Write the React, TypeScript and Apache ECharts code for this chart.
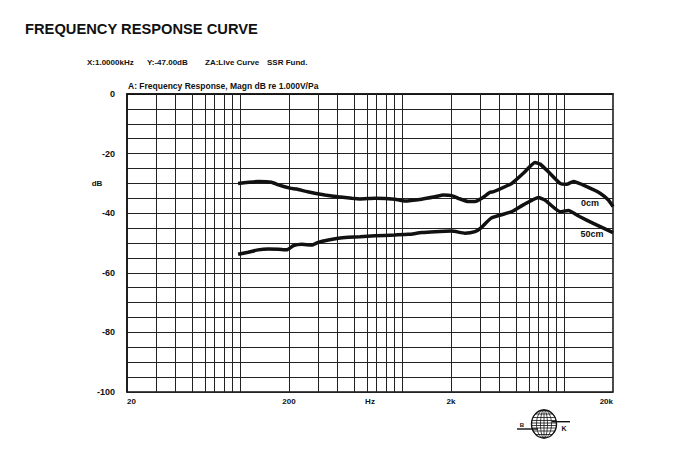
import React, { useEffect, useRef } from "react";
import * as echarts from "echarts";

const FREQ_0CM = [97, 129, 156, 172, 203, 223, 251, 289, 333, 403, 488, 548, 679, 902, 1040, 1318, 1592, 1795, 2019, 2219, 2558, 2812, 3097, 3483, 3650, 4742, 5590, 6600, 7085, 7977, 9420, 10360, 11380, 13770, 16640, 18730, 20000];
const DB_0CM = [-30.0, -29.4, -29.6, -30.5, -31.6, -31.9, -32.6, -33.3, -33.9, -34.5, -35.0, -35.2, -35.0, -35.3, -35.9, -35.3, -34.5, -33.9, -34.1, -35.0, -36.1, -36.1, -35.0, -33.0, -32.8, -30.0, -26.6, -23.0, -23.5, -26.1, -30.0, -30.3, -29.4, -31.1, -33.3, -35.6, -37.8];

const FREQ_50CM = [97, 112, 129, 149, 172, 194, 213, 240, 276, 303, 350, 403, 464, 548, 679, 902, 1089, 1318, 1592, 2019, 2440, 2812, 3050, 3550, 4742, 5590, 6920, 7610, 9420, 10600, 12510, 15110, 20000];
const DB_50CM = [-53.8, -53.1, -52.3, -52.0, -52.1, -52.3, -50.9, -50.4, -50.7, -49.8, -49.0, -48.4, -48.1, -47.9, -47.6, -47.3, -47.1, -46.5, -46.2, -46.0, -46.7, -46.2, -45.0, -41.6, -39.5, -37.2, -34.7, -35.6, -39.5, -39.1, -41.2, -43.4, -46.5];

const GRID_FREQS = [30, 40, 50, 60, 70, 80, 90, 100, 200, 300, 400, 500, 600, 700, 800, 900, 1000, 2000, 3000, 4000, 5000, 6000, 7000, 8000, 9000, 10000];
const X_TICK_LABELS = ["20", "200", "2k", "20k"];
const F_MIN = 20;

const TITLE = "FREQUENCY RESPONSE CURVE";
const HEADER_ITEMS = ["X:1.0000kHz", "Y:-47.00dB", "ZA:Live Curve", "SSR Fund."];
const SUBTITLE = "A: Frequency Response, Magn dB re 1.000V/Pa";

const lx = (f: number) => Math.log10(f / F_MIN);

export default function App() {
  const ref = useRef<HTMLDivElement>(null);
  useEffect(() => {
    if (!ref.current) return;
    const chart = echarts.init(ref.current, null, { renderer: "svg" });
    const ink = "#111";
    const font = "Liberation Sans, Arial, sans-serif";
    const small = { fontFamily: font, fontSize: 8, fontWeight: "bold", fill: ink };

    // globe logo pieces
    const R = 12.5, RY = 14;
    const logo: any[] = [];
    logo.push({ type: "ellipse", shape: { cx: 0, cy: 0, rx: R, ry: RY }, style: { fill: "#fff", stroke: ink, lineWidth: 1.4 } });
    [3.5, 7.5].forEach((rx) =>
      logo.push({ type: "ellipse", shape: { cx: 0, cy: 0, rx, ry: RY }, style: { fill: "none", stroke: ink, lineWidth: 0.8 } })
    );
    logo.push({ type: "line", shape: { x1: 0, y1: -RY, x2: 0, y2: RY }, style: { stroke: ink, lineWidth: 0.8 } });
    [-10, -6.5, -3.5, -1, 1.5, 4, 7, 10.5].forEach((dy) => {
      const hw = R * Math.sqrt(1 - (dy / RY) * (dy / RY));
      logo.push({ type: "line", shape: { x1: -hw, y1: dy, x2: hw, y2: dy }, style: { stroke: ink, lineWidth: 0.8 } });
    });
    logo.push({ type: "line", shape: { x1: -27, y1: 5, x2: -6, y2: 5 }, style: { stroke: ink, lineWidth: 1.4 } });
    logo.push({ type: "line", shape: { x1: 8, y1: -2.3, x2: 26, y2: -2.3 }, style: { stroke: ink, lineWidth: 1.4 } });
    logo.push({ type: "text", x: -22, y: 1, style: { text: "B", fontFamily: font, fontSize: 6, fontWeight: "bold", fill: ink, align: "center", verticalAlign: "middle" } });
    logo.push({ type: "text", x: 20, y: 4.5, style: { text: "K", fontFamily: font, fontSize: 7, fontWeight: "bold", fill: ink, align: "center", verticalAlign: "middle" } });

    const headerX = [87, 147, 205, 267];

    chart.setOption({
      animation: false,
      backgroundColor: "#fff",
      title: {
        text: TITLE,
        left: 20,
        top: 16,
        textStyle: { fontFamily: font, fontSize: 14.7, fontWeight: "bold", color: ink },
      },
      grid: { left: 127, right: 77, top: 94, bottom: 65, show: true, borderColor: ink, borderWidth: 1.5, backgroundColor: "transparent" },
      xAxis: {
        type: "value",
        min: 0,
        max: 3,
        interval: 1,
        axisLine: { show: true, lineStyle: { color: ink, width: 1.5 } },
        axisTick: { show: false },
        splitLine: { show: false },
        axisLabel: {
          formatter: (v: number) => X_TICK_LABELS[Math.round(v)] ?? "",
          fontFamily: font,
          fontSize: 8,
          fontWeight: "bold",
          color: ink,
          margin: 5,
          alignMinLabel: "left",
          alignMaxLabel: "right",
        },
      },
      yAxis: {
        type: "value",
        min: -100,
        max: 0,
        interval: 5,
        axisLine: { show: true, lineStyle: { color: ink, width: 1.5 } },
        axisTick: { show: false },
        splitLine: { show: true, lineStyle: { color: "#222", width: 1 } },
        axisLabel: {
          formatter: (v: number) => (v % 20 === 0 ? String(v) : ""),
          fontFamily: font,
          fontSize: 9,
          fontWeight: "bold",
          color: ink,
          margin: 12,
        },
      },
      graphic: [
        ...HEADER_ITEMS.map((t, i) => ({ type: "text", left: headerX[i], top: 58, style: { ...small, text: t } })),
        { type: "text", left: 128, top: 81, style: { ...small, fontSize: 8.5, text: SUBTITLE } },
        { type: "text", x: 97, y: 183, style: { ...small, text: "dB", align: "center", verticalAlign: "middle" } },
        { type: "text", x: 370, y: 401, style: { ...small, text: "Hz", align: "center", verticalAlign: "middle" } },
        { type: "text", x: 590, y: 203, style: { ...small, fontSize: 9, text: "0cm", align: "center", verticalAlign: "middle" } },
        { type: "text", x: 592, y: 234, style: { ...small, fontSize: 9, text: "50cm", align: "center", verticalAlign: "middle" } },
        { type: "group", x: 544, y: 424, children: logo },
      ],
      series: [
        {
          type: "line",
          data: [],
          z: 1,
          silent: true,
          markLine: {
            silent: true,
            symbol: ["none", "none"],
            label: { show: false },
            lineStyle: { color: "#222", width: 1, type: "solid" },
            data: GRID_FREQS.map((f) => ({ xAxis: lx(f) })),
          },
        },
        {
          name: "0cm",
          type: "line",
          z: 5,
          showSymbol: false,
          smooth: 0.15,
          lineStyle: { color: ink, width: 3.5 },
          data: FREQ_0CM.map((f, i) => [lx(f), DB_0CM[i]]),
        },
        {
          name: "50cm",
          type: "line",
          z: 5,
          showSymbol: false,
          smooth: 0.15,
          lineStyle: { color: ink, width: 3.5 },
          data: FREQ_50CM.map((f, i) => [lx(f), DB_50CM[i]]),
        },
      ],
    });
    return () => chart.dispose();
  }, []);
  return <div ref={ref} style={{ position: "fixed", left: 0, top: 0, width: 690, height: 457 }} />;
}
